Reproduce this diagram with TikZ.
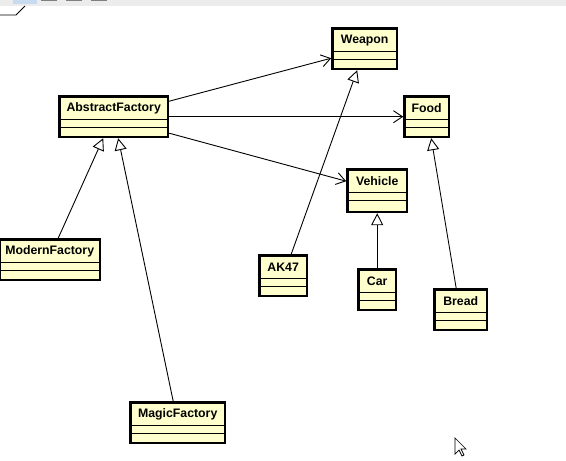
\documentclass[tikz,border=0pt]{standalone}
\usepackage{fontspec}
\setmainfont{Liberation Sans}
\usepackage{tikz}
\usetikzlibrary{positioning,calc,arrows.meta}
\definecolor{classfill}{RGB}{255,255,206}
\definecolor{barfill}{RGB}{236,236,236}
\definecolor{btnfill}{RGB}{200,218,240}
\tikzset{classbox/.style={draw, line width=2.4pt, fill=classfill, inner sep=0pt},
	classname/.style={font=\fontsize{12.3}{14}\selectfont\bfseries, inner sep=0pt},
	classline/.style={line width=1.2pt},
	assoc/.style={line width=0.9pt, -{Straight Barb[length=9pt,width=12pt]}},
	generalize/.style={line width=0.9pt, -{Triangle[length=12pt,width=12pt,fill=white]}}}
\newcommand{\umlClass}[6]{\node[classbox, minimum width=#4pt-2.4pt, minimum height=#5pt-2.4pt, anchor=north west] (#1) at ({#2+1.2},{#3+1.2}) {};
	\node[classname] (#1Name) at ($(#1.north)+(0,13)$) {#6};
	\draw[classline] ($(#1.north west)+(0,24)$) -- ($(#1.north east)+(0,24)$);
	\draw[classline] ($(#1.north west)+(0,32)$) -- ($(#1.north east)+(0,32)$);}

\begin{document}
\begin{tikzpicture}[x=1pt, y=-1pt]
	\useasboundingbox (0,0) rectangle (566,461);
	\fill[barfill] (0,0) rectangle (566,6);
	\fill[btnfill] (13,0) rectangle (37,4);
	\foreach \bx in {41,66,91} \fill[gray] (\bx,0) rectangle ({\bx+16},1.2);
	\draw[line width=0.8pt] (0,15) -- (16,15) -- (25,6);
	\umlClass{weapon}{330}{26}{67}{43}{Weapon}
	\umlClass{food}{402}{94}{47}{43}{Food}
	\umlClass{abstract}{57}{94}{111}{43}{AbstractFactory}
	\umlClass{vehicle}{345}{167}{62}{45}{Vehicle}
	\umlClass{modern}{-3}{237}{103}{43}{ModernFactory}
	\umlClass{ak}{257}{253}{50}{43}{AK47}
	\umlClass{car}{356}{267}{40}{43}{Car}
	\umlClass{bread}{432}{287}{55}{43}{Bread}
	\umlClass{magic}{128}{400}{97}{43}{MagicFactory}
	\draw[assoc] ([yshift=15.5pt]abstract.east) -- ([yshift=-9.5pt]weapon.west);
	\draw[assoc] (abstract.east) -- (food.west);
	\draw[assoc] ([yshift=-16.5pt]abstract.east) -- ([yshift=9.5pt]vehicle.west);
	\draw[generalize] ([xshift=8.5pt]modern.north) -- ([xshift=-10.5pt]abstract.south);
	\draw[generalize] ([xshift=-4.5pt]magic.north) -- ([xshift=4.5pt]abstract.south);
	\draw[generalize] ([xshift=8pt]ak.north) -- ([xshift=-7.5pt]weapon.south);
	\draw[generalize] (car.north) -- (vehicle.south);
	\draw[generalize] ([xshift=-4.5pt]bread.north) -- ([xshift=4.5pt]food.south);
	\draw[line width=0.7pt, fill=white] (455,438) -- (455,454) -- (459,450) -- (462,456) -- (464,455) -- (461,449) -- (466,449) -- cycle;
\end{tikzpicture}
\end{document}
